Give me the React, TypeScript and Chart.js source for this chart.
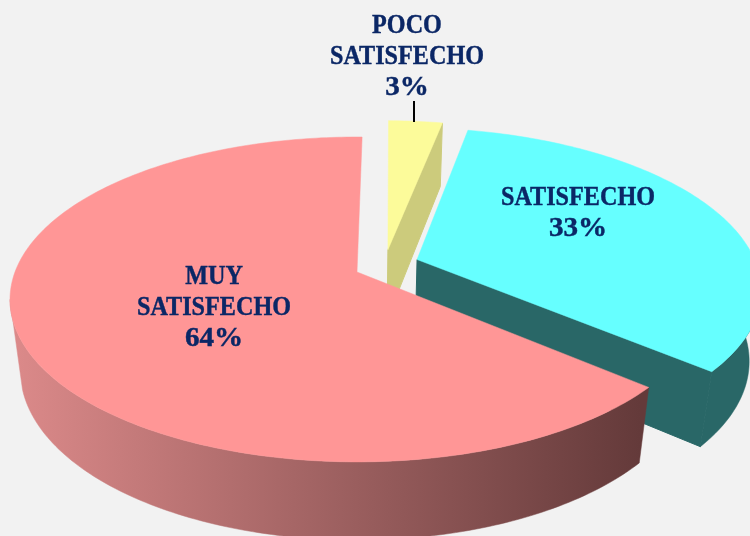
import React, { useEffect, useRef } from "react";
import { Chart, registerables } from "chart.js";

Chart.register(...registerables);

const categories = ["POCO SATISFECHO", "SATISFECHO", "MUY SATISFECHO"];
const shares = [3, 33, 64];
const topColors = ["#FCFB9A", "#66FFFF", "#FF9696"];
const wallColors = ["#CCCB7C", "#296767", "#B87474"];
const labelLines = [
  ["POCO", "SATISFECHO", "3%"],
  ["SATISFECHO", "33%"],
  ["MUY", "SATISFECHO", "64%"],
];
const labelCenters = [[407, 57], [578, 213.5], [214, 308.5]];
// explosion of each slice, in units of the disc radius
const explodeU = [0.0926, 0.178, 0];
const explodeV = [-0.145, -0.08, 0];

const CX = 357, CY = 272, R = 342, RS = 157.8, P = 0.169, Q = 0.03, H = 73;
const TEXT = "#0B2766";

function project(u: number, v: number, z: number) {
  const w = 1 - P * v + Q * z;
  return { x: CX + (R * u) / w, y: CY + (RS * v + H * z) / w };
}

function arcPts(i: number, a0: number, a1: number, z: number) {
  const pts = [];
  const n = Math.max(4, Math.ceil(((a1 - a0) * 180) / Math.PI));
  for (let k = 0; k <= n; k++) {
    const a = a0 + ((a1 - a0) * k) / n;
    pts.push(project(Math.cos(a) + explodeU[i], Math.sin(a) + explodeV[i], z));
  }
  return pts;
}

function fillPoly(ctx: CanvasRenderingContext2D, pts: { x: number; y: number }[], fill: any, lw = 0.5) {
  ctx.beginPath();
  pts.forEach((p, k) => (k ? ctx.lineTo(p.x, p.y) : ctx.moveTo(p.x, p.y)));
  ctx.closePath();
  ctx.fillStyle = fill;
  ctx.fill();
  ctx.strokeStyle = fill;
  ctx.lineWidth = lw;
  ctx.stroke();
}

const pie3d = {
  id: "pie3d",
  beforeDatasetDraw(chart: any) {
    const ctx: CanvasRenderingContext2D = chart.ctx;
    const arcs = chart.getDatasetMeta(0).data;
    ctx.save();
    arcs.forEach((el: any, i: number) => {
      const { startAngle: a0, endAngle: a1 } = el.getProps(["startAngle", "endAngle"], true);
      const apexTop = project(explodeU[i], explodeV[i], 0);
      const apexBot = project(explodeU[i], explodeV[i], 1);
      const topArc = arcPts(i, a0, a1, 0);
      const botArc = arcPts(i, a0, a1, 1);
      let wallFill: any = wallColors[i];
      if (i === 2) {
        const g = ctx.createLinearGradient(10, 0, 640, 0);
        g.addColorStop(0, "#DC8A8A");
        g.addColorStop(1, "#643A3A");
        wallFill = g;
      }
      // curved outer wall, visible front part; on the left the walls start at
      // the rim's widest point, which gives the straight silhouette there
      const front: { x: number; y: number }[] = [];
      const frontBot: { x: number; y: number }[] = [];
      topArc.forEach((p, k) => {
        const a = a0 + ((a1 - a0) * k) / (topArc.length - 1);
        const s = Math.sin(a);
        const left = Math.cos(a) < 0;
        if (left ? s > 0.169 : s > -0.05) front.push(p);
        if (left ? s > 0.26 : s > -0.05) frontBot.push(botArc[k]);
      });
      if (front.length > 1 && frontBot.length > 1) fillPoly(ctx, [...front, ...frontBot.reverse()], wallFill);
      // radial wall at the clockwise end of the slice (faces right/front)
      if (i !== 2) {
        fillPoly(ctx, [apexTop, topArc[topArc.length - 1], botArc[botArc.length - 1], apexBot], wallFill, 1);
      }
      // top face
      fillPoly(ctx, [apexTop, ...topArc], el.options.backgroundColor);
    });
    ctx.restore();
    return false;
  },
  afterDatasetsDraw(chart: any) {
    const ctx: CanvasRenderingContext2D = chart.ctx;
    ctx.save();
    ctx.strokeStyle = "#000000";
    ctx.lineWidth = 2;
    ctx.beginPath();
    ctx.moveTo(414, 101);
    ctx.lineTo(414, 122);
    ctx.stroke();
    ctx.fillStyle = TEXT;
    ctx.strokeStyle = TEXT;
    ctx.lineWidth = 0.4;
    ctx.font = 'bold 26px "Liberation Serif"';
    ctx.textAlign = "center";
    ctx.textBaseline = "middle";
    labelLines.forEach((lines, i) => {
      lines.forEach((line, k) => {
        ctx.save();
        ctx.translate(labelCenters[i][0], labelCenters[i][1] + (k - (lines.length - 1) / 2) * 31);
        ctx.scale(line.endsWith("%") ? 1.12 : 0.93, 1.03);
        ctx.fillText(line, 0, 0);
        ctx.strokeText(line, 0, 0);
        ctx.restore();
      });
    });
    ctx.restore();
  },
};

export default function App() {
  const ref = useRef<HTMLCanvasElement>(null);
  useEffect(() => {
    const chart = new Chart(ref.current!, {
      type: "pie",
      data: {
        labels: categories,
        datasets: [{ data: shares, backgroundColor: topColors, borderWidth: 0 }],
      },
      options: {
        responsive: false,
        animation: false,
        rotation: 1,
        plugins: { legend: { display: false }, tooltip: { enabled: false } },
      },
      plugins: [pie3d],
    } as any);
    return () => chart.destroy();
  }, []);
  return (
    <div style={{ position: "fixed", left: 0, top: 0, width: 750, height: 536, background: "#F2F2F2", overflow: "hidden" }}>
      <canvas ref={ref} width={750} height={536} style={{ display: "block" }} />
    </div>
  );
}
